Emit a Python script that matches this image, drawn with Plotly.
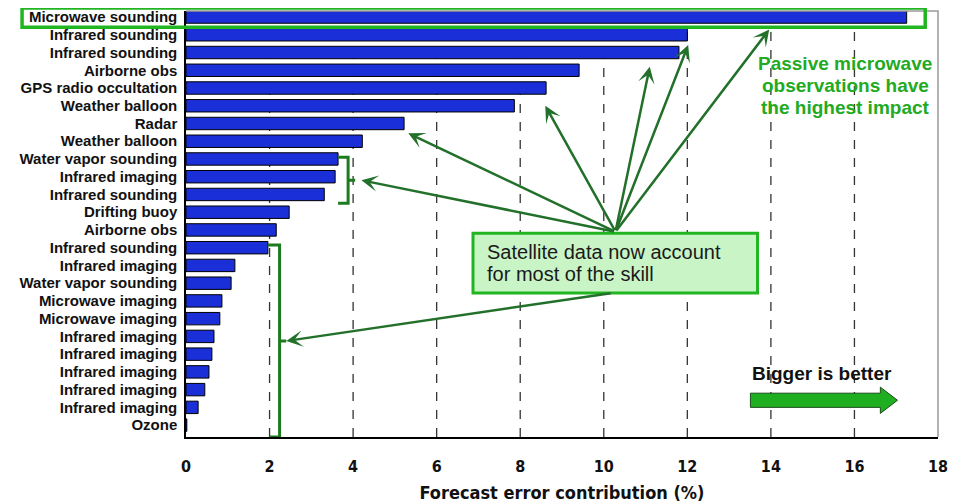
import plotly.graph_objects as go

# ---- data (top to bottom) ----
categories = [
    "Microwave sounding", "Infrared sounding", "Infrared sounding", "Airborne obs",
    "GPS radio occultation", "Weather balloon", "Radar", "Weather balloon",
    "Water vapor sounding", "Infrared imaging", "Infrared sounding", "Drifting buoy",
    "Airborne obs", "Infrared sounding", "Infrared imaging", "Water vapor sounding",
    "Microwave imaging", "Microwave imaging", "Infrared imaging", "Infrared imaging",
    "Infrared imaging", "Infrared imaging", "Infrared imaging", "Ozone",
]
values = [
    17.25, 12.0, 11.8, 9.41, 8.62, 7.86, 5.22, 4.22, 3.64, 3.57, 3.31, 2.47,
    2.16, 1.96, 1.17, 1.08, 0.86, 0.81, 0.67, 0.62, 0.55, 0.45, 0.29, 0.02,
]
x_ticks = [0, 2, 4, 6, 8, 10, 12, 14, 16, 18]
grid_x = [2, 4, 6, 8, 10, 12, 14, 16]
rows = list(range(len(categories)))

GREEN_DARK = "#22702a"
GREEN = "#22b522"
FONT = "Liberation Sans, Arial, sans-serif"
NARROW = "DejaVu Sans Condensed, Liberation Sans Narrow, Liberation Sans, Arial, sans-serif"

fig = go.Figure()
fig.add_trace(go.Bar(
    x=values, y=rows, orientation="h",
    marker=dict(color="#1b2fd8", line=dict(color="#000000", width=1)),
    width=0.7,
))

shapes = []
for gx in grid_x:
    shapes.append(dict(type="line", xref="x", yref="paper", x0=gx, x1=gx, y0=0, y1=1,
                       line=dict(color="#333333", width=1.3, dash="dash"), layer="below"))
# gray top/right frame
shapes.append(dict(type="path", xref="paper", yref="paper", path="M 0,1 L 1,1 L 1,0",
                   line=dict(color="#9a9a9a", width=1.5)))
# highlight box around top row
shapes.append(dict(type="rect", xref="paper", yref="paper", x0=-0.218, x1=0.983,
                   y0=0.962, y1=1.007, line=dict(color=GREEN, width=3.5)))
# brackets
shapes.append(dict(type="path", xref="x", yref="y",
                   path="M 3.64,7.9 L 3.88,7.9 L 3.88,10.5 L 3.64,10.5 M 3.88,9.2 L 4.05,9.2",
                   line=dict(color="#1e7a1e", width=3)))
shapes.append(dict(type="path", xref="x", yref="y",
                   path="M 1.96,12.85 L 2.24,12.85 L 2.24,23.67 L 2.0,23.67 M 2.24,18.26 L 2.4,18.26",
                   line=dict(color="#1e7a1e", width=3)))
# satellite box
shapes.append(dict(type="rect", xref="x", yref="y", x0=6.87, x1=13.68, y0=12.18, y1=15.56,
                   fillcolor="#c9f4c6", line=dict(color=GREEN, width=3), layer="above"))
# bigger is better arrow
shapes.append(dict(type="path", xref="x", yref="y",
                   path="M 13.51,21.2 L 16.62,21.2 L 16.62,20.86 L 17.03,21.6 L 16.62,22.34 L 16.62,22.0 L 13.51,22.0 Z",
                   fillcolor="#1fae1f", line=dict(color="#1a4d1a", width=1)))

annotations = []
tail = (10.28, 12.1)
tips = [(13.96, 0.7), (12.02, 1.58), (11.1, 2.8), (8.6, 5.0), (5.32, 6.55), (4.2, 9.2)]
for tx, ty in tips:
    annotations.append(dict(x=tx, y=ty, ax=tail[0], ay=tail[1], xref="x", yref="y",
                            axref="x", ayref="y", text="", showarrow=True,
                            arrowhead=3, arrowsize=1.1, arrowwidth=2.5, arrowcolor=GREEN_DARK))
annotations.append(dict(x=2.4, y=18.26, ax=10.2, ay=15.55, xref="x", yref="y",
                        axref="x", ayref="y", text="", showarrow=True,
                        arrowhead=3, arrowsize=1.1, arrowwidth=2.5, arrowcolor=GREEN_DARK))
box_lines = ["Satellite data now account", "for most of the skill"]
box_rows = [13.25, 14.5]
for t, r in zip(box_lines, box_rows):
    annotations.append(dict(x=7.16, y=r, xref="x", yref="y", xanchor="left", yanchor="middle",
                            text=t, showarrow=False,
                            font=dict(family=FONT, size=20, color="#1a1a1a")))
passive_lines = ["Passive microwave", "observations have", "the highest impact"]
passive_rows = [2.6, 3.85, 5.1]
for t, r in zip(passive_lines, passive_rows):
    annotations.append(dict(x=15.78, y=r, xref="x", yref="y", xanchor="center", yanchor="middle",
                            text="<b>%s</b>" % t, showarrow=False,
                            font=dict(family=FONT, size=19, color="#22aa22")))
annotations.append(dict(x=15.23, y=20.07, xref="x", yref="y", xanchor="center", yanchor="middle",
                        text="<b>Bigger is better</b>", showarrow=False,
                        font=dict(family=FONT, size=19, color="#111111")))

fig.update_layout(
    width=966, height=502,
    margin=dict(l=178, r=36, t=3, b=73, autoexpand=False),
    paper_bgcolor="white", plot_bgcolor="white",
    showlegend=False,
    bargap=0.3,
    shapes=shapes,
    annotations=annotations,
    xaxis=dict(range=[0, 18], tickvals=x_ticks, ticktext=["<b>%d</b>" % v for v in x_ticks],
               showgrid=False, zeroline=False, showline=True, linecolor="#000000", linewidth=1.5,
               ticks="", ticklabelstandoff=14, automargin=False,
               tickfont=dict(family=NARROW, size=16, color="#111111"),
               title=dict(text="<b>Forecast error contribution (%)</b>", standoff=11,
                          font=dict(family=NARROW, size=18, color="#111111"))),
    yaxis=dict(range=[23.67, -0.34], tickvals=rows, ticktext=["<b>%s</b>" % c for c in categories],
               showgrid=False, zeroline=False, showline=True, linecolor="#000000", linewidth=1.5,
               ticks="", ticklabelstandoff=4, automargin=False,
               tickfont=dict(family=FONT, size=15, color="#111111")),
)

fig.write_html("out.html")
